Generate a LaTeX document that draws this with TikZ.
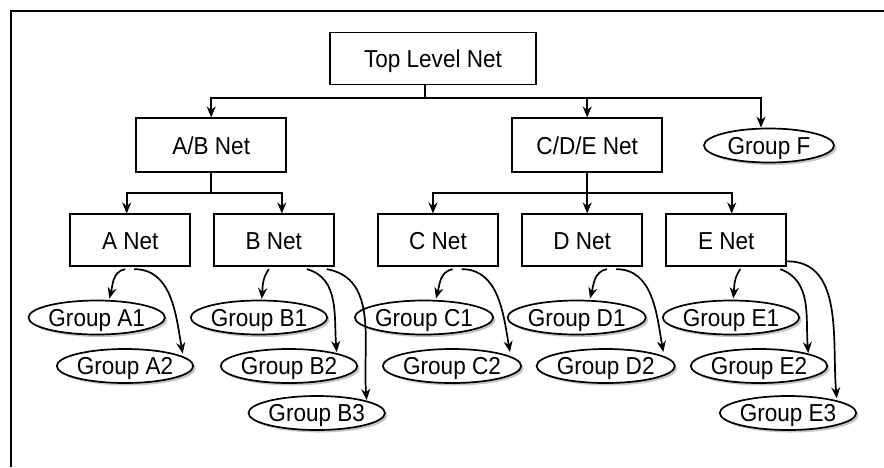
\documentclass[tikz,border=0pt]{standalone}
\usepackage{fontspec}
\setmainfont{Liberation Sans}[FakeStretch=0.92]
\usetikzlibrary{shapes.geometric,calc,shadows,arrows.meta}

\begin{document}
\begin{tikzpicture}[x=1pt,y=1pt,line width=1.7pt,
	>={Stealth[length=11pt,width=9pt]},
	netbox/.style={draw,rectangle,inner sep=0pt,minimum height=52pt,
		text height=17.5pt,text depth=0pt,font=\fontsize{24.5}{28}\selectfont},
	grp/.style={draw,ellipse,fill=white,inner sep=0pt,minimum width=129pt,
		minimum height=34pt,text height=17.5pt,text depth=0pt,
		font=\fontsize{24.5}{28}\selectfont,
		drop shadow={shadow xshift=2.5pt,shadow yshift=-2.5pt,fill=black!45}}]
	\useasboundingbox (0,0) rectangle (884,-467);
	\draw (11,-467) |- (884,-11);

	\node[netbox,minimum width=206pt] (top) at (433,-58.5) {Top Level Net};
	\node[netbox,minimum width=150pt,minimum height=54pt] (ab) at (211.2,-145.3) {A/B Net};
	\node[netbox,minimum width=150pt,minimum height=54pt] (cde) at (587.2,-145.3) {C/D/E Net};
	\node[grp,minimum width=130pt] (F) at (769,-145.5) {Group F};
	\foreach \x/\n/\t in {130.2/a/A,273.8/b/B,438/c/C,582.2/d/D,726.3/e/E}
		\node[netbox,minimum width=120pt] (\n) at (\x,-240.3) {\t\ Net};

	\foreach \x/\y/\n/\t in
	{96.7/317.5/a1/A1,125/366/a2/A2,259/317.5/b1/B1,289/366/b2/B2,
	 316.7/413/b3/B3,424/317.5/c1/C1,452/366/c2/C2,576.7/317.5/d1/D1,
	 605.7/366/d2/D2,731/317.5/e1/E1,759/366/e2/E2,788/413/e3/E3}
		\node[grp] (\n) at (\x,-\y) {Group \t};

	\coordinate (topj) at (425,-97.7);
	\coordinate (abj) at ([yshift=-20]ab.south);
	\coordinate (cdej) at ([yshift=-20]cde.south);

	\draw (top.south -| topj) -- (topj);
	\draw[->] (topj) -| (ab);
	\draw[->] (topj) -| (cde);
	\draw[->] (topj) -| ([xshift=-8]F.north);

	\draw (ab.south) -- (abj);
	\draw[->] (abj) -| ([xshift=-3.5]a.north);
	\draw[->] (abj) -| ([xshift=8]b.north);

	\draw (cde.south) -- (cdej);
	\draw[->] (cdej) -| ([xshift=-5]c.north);
	\draw[->] (cdej) -- (cdej |- d.north);
	\draw[->] (cdej) -| ([xshift=5.4]e.north);

	\foreach \src/\sx/\g/\gx/\gy/\ot/\it in
	{a/-5/a1/12.6/19/190/75,a/4/a2/57.7/12.5/0/100,
	 b/-5/b1/2.7/18.5/235/85,b/33/b2/47.7/14/345/95,b/53/b3/50/13/350/95,
	 c/14.7/c1/12/19/190/75,c/23.7/c2/58/14/0/100,
	 d/24.7/d1/13.3/19/190/75,d/34/d2/57.6/14/0/100,
	 e/14/e1/2.3/19/235/85,e/54/e2/49.3/13/340/95}
		\draw[->] ([xshift=\sx,yshift=-2]\src.south) to[out=\ot,in=\it]
			($(\g)+(\gx,\gy)$);
	\draw[->] ([yshift=-21]e.east) to[out=0,in=95] ($(e3)+(48.7,14.7)$);
\end{tikzpicture}
\end{document}
